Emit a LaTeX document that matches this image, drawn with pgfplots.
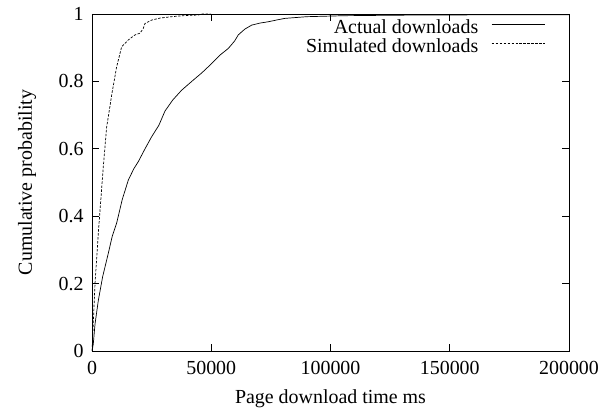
\documentclass[border=0pt]{standalone}
\usepackage{pgfplots}
\pgfplotsset{compat=1.18}
\usepackage{fontspec}
\setmainfont{Liberation Serif}
\begin{document}
\begin{tikzpicture}
\begin{axis}[
  scale only axis,
  width=477bp, height=337bp,
  xmin=0, xmax=200000, ymin=0, ymax=1,
  xtick={0,50000,100000,150000,200000},
  ytick={0,0.2,0.4,0.6,0.8,1},
  scaled x ticks=false,
  xticklabel style={/pgf/number format/fixed,/pgf/number format/1000 sep={}, yshift=-7bp},
  yticklabel style={/pgf/number format/fixed, xshift=-5bp},
  /pgf/number format/assume math mode=true,
  tick align=inside,
  major tick length=7bp,
  tick style={black, line width=0.6pt},
  axis line style={line width=0.9pt},
  font=\fontsize{20}{24}\selectfont,
  xlabel={Page download time ms},
  ylabel={Cumulative probability},
  every axis x label/.append style={at={(axis description cs:0.5,-0.142)}, anchor=center},
  every axis y label/.append style={at={(axis description cs:-0.136,0.5)}, anchor=center},
  legend plot pos=right,
  legend cell align=right,
  legend style={draw=none, fill=none, inner sep=0pt, at={(0.950,0.984)}, anchor=north east,
    row sep=0pt, column sep=13bp, font=\fontsize{20}{24}\selectfont,
    nodes={inner sep=0pt, text height=14bp, text depth=5bp}},
  legend image code/.code={\draw[#1] (0bp,4.5bp) -- (53bp,4.5bp);},
]
\addplot[black, line width=0.7pt] coordinates {
(0,0) (530,0.02) (1270,0.08) (2650,0.15) (4450,0.22) (6840,0.29) (8470,0.34) (10350,0.38)
(12700,0.45) (15220,0.507) (17470,0.54) (19420,0.562) (22230,0.60) (25030,0.636)
(28060,0.67) (30600,0.712) (33880,0.745) (37600,0.774) (41820,0.80) (45990,0.825)
(50180,0.853) (54000,0.88) (57170,0.898) (59820,0.92) (61340,0.938) (64050,0.955)
(66960,0.967) (70400,0.973) (73930,0.977) (77290,0.982) (80880,0.987) (90000,0.992)
(105870,0.995) (137600,0.997) (200000,0.998)
};
\addlegendentry{Actual downloads}
\addplot[black, line width=0.7pt, dash pattern=on 2.5pt off 1.5pt] coordinates {
(0,0) (530,0.08) (1260,0.2) (2650,0.35) (3710,0.45) (4740,0.547) (6160,0.666) (6840,0.695)
(8260,0.76) (10350,0.844) (12450,0.903) (15220,0.923) (18030,0.938) (20120,0.943)
(21490,0.957) (22230,0.972) (25030,0.982) (28590,0.988) (33410,0.992) (38110,0.995)
(44570,0.997) (45990,1.0) (49760,1.0)
};
\addlegendentry{Simulated downloads}
\end{axis}
\path (-92bp,-63bp) rectangle (520bp,351bp);
\end{tikzpicture}
\end{document}
